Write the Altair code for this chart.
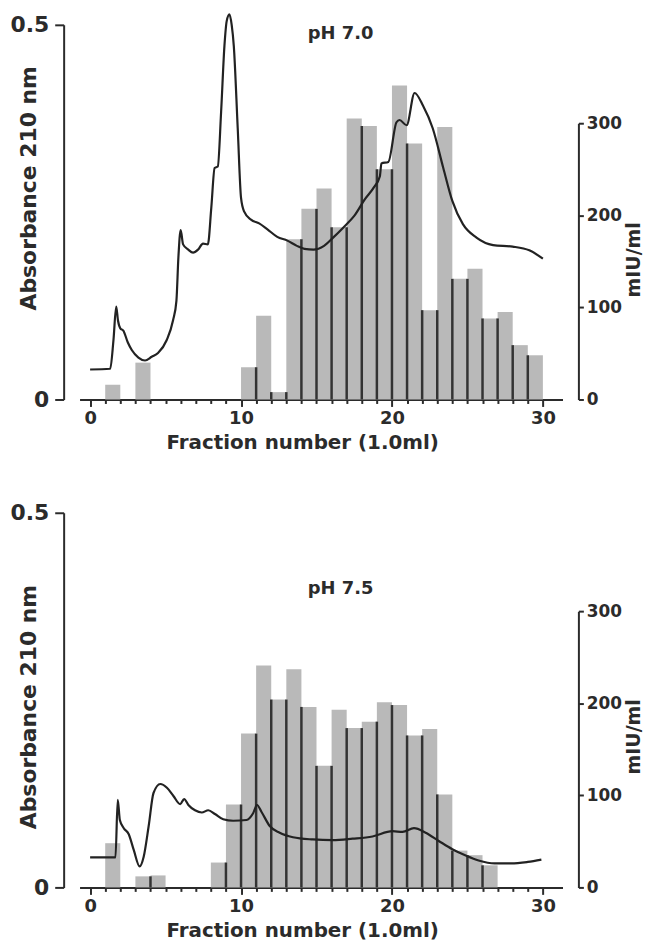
import altair as alt
import pandas as pd

FONT = "DejaVu Sans"
INK = "#2b2b2b"

# ---------------- pH 7.0 ----------------
top_bar_start = [1, 3, 10, 11, 12, 13, 14, 15, 16, 17, 18, 19, 20, 21, 22, 23, 24, 25, 26, 27, 28, 29]
top_bar_value = [16, 40, 35, 91, 8, 174, 207, 229, 187, 305, 297, 250, 341, 278, 97, 296, 131, 142, 88, 95, 59, 48]
top_line_x = [0, 1.33, 1.55, 1.73, 1.85, 2.0, 2.2, 2.5, 2.76, 3.2, 3.64, 4.08, 4.5, 5.07, 5.5, 5.72, 5.85,
              6.0, 6.16, 6.5, 6.82, 7.15, 7.48, 7.8, 8.03, 8.25, 8.46, 8.68, 8.9, 9.05, 9.23, 9.38, 9.52,
              9.78, 10.0, 10.2, 10.66, 11.2, 11.75, 12.4, 13.07, 13.7, 14.2, 14.8, 15.5, 16.1, 16.8, 17.5,
              18.2, 18.8, 19.2, 19.3, 19.76, 20.3, 20.5, 20.97, 21.5, 22.06, 22.7, 23.4, 24.0, 24.7, 25.6,
              26.7, 28.0, 29.1, 30.0]
top_line_y = [0.040, 0.041, 0.080, 0.124, 0.105, 0.095, 0.092, 0.076, 0.066, 0.056, 0.052, 0.057, 0.062,
              0.079, 0.106, 0.132, 0.190, 0.226, 0.207, 0.200, 0.196, 0.200, 0.208, 0.207, 0.256, 0.309,
              0.311, 0.384, 0.472, 0.505, 0.514, 0.500, 0.472, 0.362, 0.269, 0.251, 0.240, 0.235, 0.227,
              0.217, 0.212, 0.205, 0.201, 0.200, 0.205, 0.216, 0.230, 0.245, 0.267, 0.283, 0.298, 0.315,
              0.317, 0.370, 0.373, 0.366, 0.409, 0.392, 0.362, 0.309, 0.265, 0.234, 0.216, 0.206, 0.204,
              0.199, 0.188]

# ---------------- pH 7.5 ----------------
bot_bar_start = [1, 3, 4, 8, 9, 10, 11, 12, 13, 14, 15, 16, 17, 18, 19, 20, 21, 22, 23, 24, 25, 26]
bot_bar_value = [48, 12, 13, 27, 90, 167, 241, 204, 237, 196, 132, 193, 173, 180, 201, 198, 165, 172, 101, 40, 35, 24]
bot_line_x = [0, 1.68, 1.83, 1.97, 2.23, 2.56, 2.89, 3.28, 3.55, 3.88, 4.2, 4.65, 5.09, 5.52, 5.97, 6.23,
              6.51, 6.95, 7.4, 7.83, 8.27, 8.82, 9.48, 10.36, 10.8, 11.06, 11.35, 11.9, 12.56, 13.44, 14.75,
              16.07, 17.39, 18.71, 20.03, 20.7, 21.46, 22.23, 23.1, 24.0, 24.85, 25.74, 26.8, 27.9, 29.0, 29.9]
bot_line_y = [0.040, 0.040, 0.117, 0.090, 0.079, 0.071, 0.050, 0.028, 0.041, 0.082, 0.126, 0.138, 0.133,
              0.122, 0.111, 0.118, 0.110, 0.103, 0.100, 0.103, 0.098, 0.091, 0.089, 0.090, 0.099, 0.110,
              0.101, 0.082, 0.073, 0.067, 0.064, 0.063, 0.065, 0.068, 0.075, 0.074, 0.079, 0.073, 0.062,
              0.051, 0.043, 0.036, 0.032, 0.032, 0.034, 0.037]

panel_labels = ["pH 7.0", "pH 7.5"]
x_ticks = list(range(0, 31))
left_ticks = [0, 0.5]
right_ticks = [0, 100, 200, 300]

W = 486
H = 377


def make_panel(bar_start, bar_value, line_x, line_y, label, label_a, ltitle_y, rtitle_y, xtitle_y):
    bars_df = pd.DataFrame({"start": bar_start,
                            "end": [s + 1 for s in bar_start],
                            "value": bar_value})
    # dark edges between adjacent fractions, up to the lower of the two bars
    edges = []
    for i in range(len(bar_start) - 1):
        if bar_start[i + 1] == bar_start[i] + 1:
            edges.append({"start": bar_start[i + 1], "value": min(bar_value[i], bar_value[i + 1])})
    edges_df = pd.DataFrame(edges)
    line_df = pd.DataFrame({"f": line_x, "a": line_y})
    label_df = pd.DataFrame({"f": [16.6], "a": [label_a], "label": [label]})

    xscale = alt.Scale(domain=[-0.7, 31.3], nice=False, zero=False)
    xaxis = alt.Axis(
        values=x_ticks,
        labelExpr="datum.value % 10 === 0 ? datum.label : ''",
        labelOverlap=False, labelFlush=False,
        tickSize={"condition": {"test": "datum.value % 10 === 0", "value": 7}, "value": 4},
        labelPadding=3, labelFontSize=18,
        title="Fraction number (1.0ml)", titleFontSize=20,
        titleX=224, titleY=xtitle_y, titleBaseline="middle", titleAlign="center", titleAnchor="middle",
        grid=False,
    )
    yl_scale = alt.Scale(domain=[0, 0.5], nice=False)
    yl_axis = alt.Axis(
        orient="left", values=left_ticks,
        labelExpr="datum.value == 0 ? '0' : '0.5'",
        offset=16, tickSize=9, labelPadding=6, labelFontSize=22, labelFlush=False,
        title="Absorbance 210 nm", titleFontSize=22, titleAngle=270,
        titleX=-35, titleY=ltitle_y, titleBaseline="middle", titleAlign="center",
        grid=False,
    )
    yr_scale = alt.Scale(domain=[0, 300], range=[H, H - 278], nice=False)
    yr_axis = alt.Axis(
        orient="right", values=right_ticks,
        offset=16, tickSize=5, labelPadding=3, labelFontSize=17, labelFlush=False,
        title="mIU/ml", titleFontSize=19, titleAngle=270,
        titleX=55, titleY=rtitle_y, titleBaseline="middle", titleAlign="center",
        grid=False,
    )

    bars = alt.Chart(bars_df).mark_rect(color="#b9b9b9").encode(
        x=alt.X("start:Q", scale=xscale, axis=xaxis),
        x2="end:Q",
        y=alt.Y("value:Q", scale=yr_scale, axis=yr_axis),
        y2=alt.datum(0),
    )
    edge_rules = alt.Chart(edges_df).mark_rule(color="#333333", strokeWidth=2.5).encode(
        x=alt.X("start:Q", scale=xscale, axis=xaxis),
        y=alt.Y("value:Q", scale=yr_scale, axis=yr_axis),
        y2=alt.datum(0),
    )
    right = alt.layer(bars, edge_rules)

    line = alt.Chart(line_df).mark_line(color="#222222", strokeWidth=2.2, interpolate="monotone").encode(
        x=alt.X("f:Q", scale=xscale, axis=xaxis),
        y=alt.Y("a:Q", scale=yl_scale, axis=yl_axis),
    )
    txt = alt.Chart(label_df).mark_text(font=FONT, fontWeight="bold", fontSize=18, color=INK).encode(
        x=alt.X("f:Q", scale=xscale, axis=xaxis),
        y=alt.Y("a:Q", scale=yl_scale, axis=yl_axis),
        text="label:N",
    )
    left = alt.layer(line, txt)

    return alt.layer(right, left).resolve_scale(y="independent").properties(width=W, height=H)


top = make_panel(top_bar_start, top_bar_value, top_line_x, top_line_y, panel_labels[0], 0.488, 164, 236, 43)
bottom = make_panel(bot_bar_start, bot_bar_value, bot_line_x, bot_line_y, panel_labels[1], 0.398, 195, 225, 43)

chart = alt.vconcat(top, bottom, spacing=114, bounds="flush").properties(
    padding={"left": 2, "top": -1, "right": 0, "bottom": 0},
    background="white",
).configure_view(stroke=None).configure_axis(
    labelFont=FONT, titleFont=FONT, labelFontWeight="bold", titleFontWeight="bold",
    labelColor=INK, titleColor=INK, domainColor=INK, tickColor=INK,
    domainWidth=2, tickWidth=2,
)

chart.save("out.html", embed_options={"renderer": "svg", "actions": False})
